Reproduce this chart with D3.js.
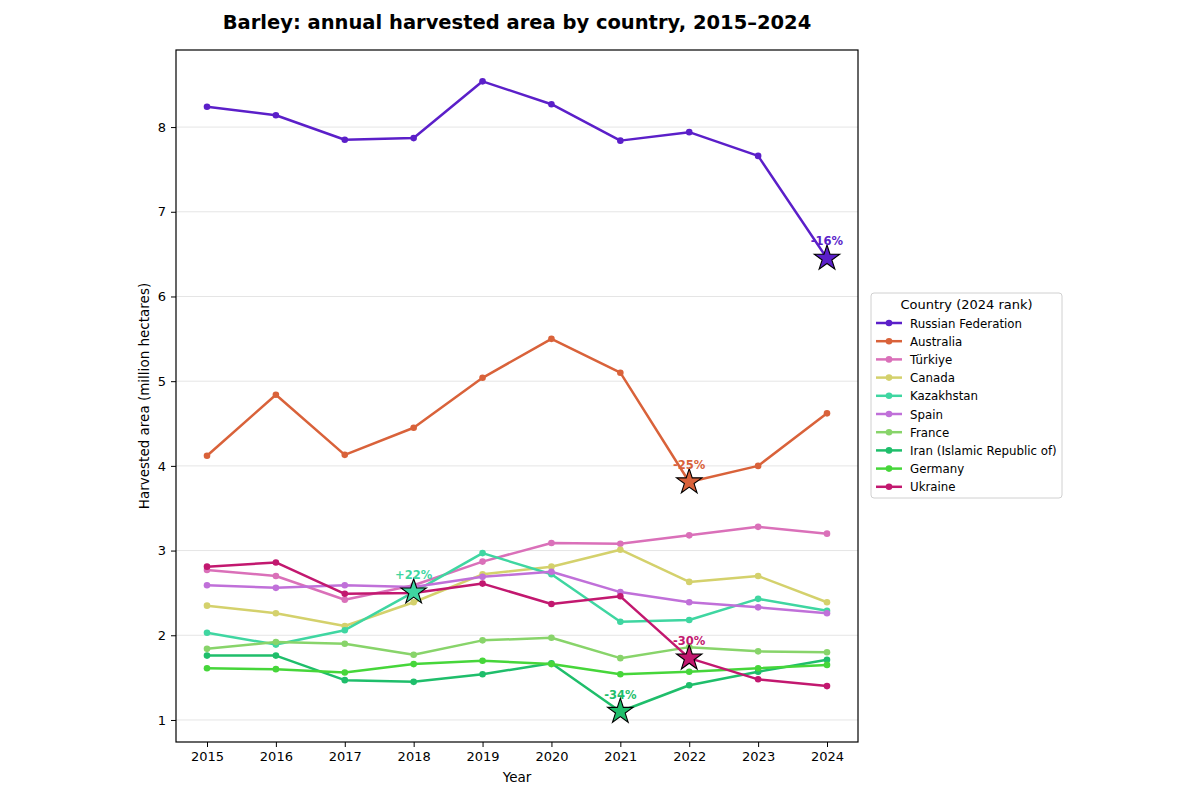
<!DOCTYPE html>
<html>
<head>
<meta charset="utf-8">
<script src="https://cdn.jsdelivr.net/npm/d3@7"></script>
<style>
  body { margin: 0; background: #fff; font-family: "DejaVu Sans", sans-serif; }
  svg { display: block; }
  .grid line { stroke: #e5e5e5; stroke-width: 1; }
  .axis path, .axis line { stroke: #000; }
</style>
</head>
<body>
<div id="chart"></div>
<script>
// Données
const years = [2015, 2016, 2017, 2018, 2019, 2020, 2021, 2022, 2023, 2024];
const countries = ["Russian Federation", "Australia", "Türkiye", "Canada", "Kazakhstan",
  "Spain", "France", "Iran (Islamic Republic of)", "Germany", "Ukraine"];
const colors = ["#5b1fc9", "#d9623a", "#da70b9", "#d4d16c", "#3fd6a1",
  "#c070d9", "#88d46a", "#1fbe6b", "#46d63a", "#c2186f"];

const russia     = [8.24, 8.14, 7.85, 7.87, 8.54, 8.27, 7.84, 7.94, 7.66, 6.45];
const australia  = [4.12, 4.84, 4.13, 4.45, 5.04, 5.50, 5.10, 3.81, 4.00, 4.62];
const turkiye    = [2.77, 2.70, 2.42, 2.59, 2.87, 3.09, 3.08, 3.18, 3.28, 3.20];
const canada     = [2.35, 2.26, 2.11, 2.39, 2.72, 2.81, 3.01, 2.63, 2.70, 2.39];
const kazakhstan = [2.03, 1.89, 2.06, 2.51, 2.97, 2.72, 2.16, 2.18, 2.43, 2.29];
const spain      = [2.59, 2.56, 2.59, 2.57, 2.69, 2.75, 2.51, 2.39, 2.33, 2.26];
const france     = [1.84, 1.92, 1.90, 1.77, 1.94, 1.97, 1.73, 1.86, 1.81, 1.80];
const iran       = [1.76, 1.76, 1.47, 1.45, 1.54, 1.67, 1.10, 1.41, 1.57, 1.71];
const germany    = [1.61, 1.60, 1.56, 1.66, 1.70, 1.66, 1.54, 1.57, 1.61, 1.65];
const ukraine    = [2.81, 2.86, 2.49, 2.50, 2.61, 2.37, 2.46, 1.73, 1.48, 1.40];
const seriesValues = [russia, australia, turkiye, canada, kazakhstan, spain, france, iran, germany, ukraine];

// Plus fortes variations annuelles (étoiles)
const highlightCountries = ["Russian Federation", "Australia", "Kazakhstan", "Iran (Islamic Republic of)", "Ukraine"];
const highlightYears = [2024, 2022, 2018, 2021, 2022];

const yTicks = [1, 2, 3, 4, 5, 6, 7, 8];

const series = countries.map((c, i) => ({
  name: c, color: colors[i],
  values: years.map((y, j) => ({ year: y, value: seriesValues[i][j] }))
}));

const width = 1200, height = 800;
const margin = { top: 50, right: 342, bottom: 58, left: 176 };
const innerWidth = width - margin.left - margin.right;
const innerHeight = height - margin.top - margin.bottom;
const font = "DejaVu Sans, sans-serif";

const xScale = d3.scaleLinear().domain([2014.55, 2024.45]).range([0, innerWidth]);
const yScale = d3.scaleLinear().domain([0.74, 8.91]).range([innerHeight, 0]);

const svg = d3.select("#chart").append("svg")
  .attr("width", width).attr("height", height);

svg.append("text")
  .attr("x", margin.left + innerWidth / 2)
  .attr("y", 29)
  .attr("text-anchor", "middle")
  .attr("font-family", font)
  .attr("font-size", 19.5).attr("font-weight", "bold")
  .text("Barley: annual harvested area by country, 2015\u20132024");

const g = svg.append("g").attr("transform", `translate(${margin.left},${margin.top})`);

// GRID
g.append("g").attr("class", "grid")
  .selectAll("line").data(yTicks).enter().append("line")
    .attr("x1", 0).attr("x2", innerWidth)
    .attr("y1", d => yScale(d)).attr("y2", d => yScale(d));

// AXES
g.append("g").attr("class", "axis")
  .attr("transform", `translate(0,${innerHeight})`)
  .call(d3.axisBottom(xScale).tickValues(years).tickFormat(d3.format("d")).tickSize(5).tickPadding(5))
  .call(a => a.select(".domain").remove())
  .call(a => a.selectAll(".tick text")
    .attr("text-anchor", "middle").attr("font-size", 13).attr("font-family", font).attr("fill", "#000"));

g.append("g").attr("class", "axis")
  .call(d3.axisLeft(yScale).tickValues(yTicks).tickSize(5).tickPadding(5))
  .call(a => a.select(".domain").remove())
  .call(a => a.selectAll(".tick text")
    .attr("text-anchor", "end").attr("font-size", 13).attr("font-family", font).attr("fill", "#000"));

g.append("rect")
  .attr("width", innerWidth).attr("height", innerHeight)
  .attr("fill", "none").attr("stroke", "#000").attr("stroke-width", 1.2);

svg.append("text")
  .attr("x", margin.left + innerWidth / 2).attr("y", 782)
  .attr("text-anchor", "middle").attr("font-family", font).attr("font-size", 13.5)
  .text("Year");

svg.append("text")
  .attr("transform", `translate(149,${margin.top + innerHeight / 2}) rotate(-90)`)
  .attr("text-anchor", "middle").attr("font-family", font).attr("font-size", 13.5)
  .text("Harvested area (million hectares)");

// LINES
const line = d3.line().x(d => xScale(d.year)).y(d => yScale(d.value));

const groups = g.selectAll(".series").data(series).enter().append("g").attr("class", "series");
groups.append("path")
  .attr("d", d => line(d.values))
  .attr("fill", "none").attr("stroke", d => d.color)
  .attr("stroke-width", 2.5).attr("stroke-linejoin", "round");
groups.selectAll("circle").data(d => d.values.map(v => ({ ...v, color: d.color }))).enter()
  .append("circle")
    .attr("cx", d => xScale(d.year)).attr("cy", d => yScale(d.value))
    .attr("r", 3.3).attr("fill", d => d.color);

// STARS + labels
const star = d3.symbol().type(d3.symbolStar).size(200);
highlightCountries.forEach((c, i) => {
  const s = series.find(d => d.name === c);
  const j = years.indexOf(highlightYears[i]);
  const v = s.values[j].value, prev = s.values[j - 1].value;
  const pct = Math.round((v - prev) / prev * 100);
  const px = xScale(highlightYears[i]), py = yScale(v);
  g.append("path")
    .attr("d", star)
    .attr("transform", `translate(${px},${py})`)
    .attr("fill", s.color).attr("stroke", "#000").attr("stroke-width", 1.1);
  g.append("text")
    .attr("x", px).attr("y", py - 13)
    .attr("text-anchor", "middle")
    .attr("font-family", font).attr("font-size", 11.5).attr("font-weight", "bold")
    .attr("fill", s.color)
    .text((pct > 0 ? "+" : "") + pct + "%");
});

// LEGEND
const lgX = 871, lgY = 293, rowH = 18.2;
svg.append("rect")
  .attr("x", lgX).attr("y", lgY)
  .attr("width", 191).attr("height", 205).attr("rx", 3)
  .attr("fill", "#fff").attr("stroke", "#d0d0d0");
svg.append("text")
  .attr("x", lgX + 95.5).attr("y", lgY + 16)
  .attr("text-anchor", "middle").attr("font-family", font).attr("font-size", 13)
  .text("Country (2024 rank)");
svg.selectAll(".lg-line").data(series).enter().append("line")
  .attr("x1", lgX + 5).attr("x2", lgX + 31)
  .attr("y1", (d, i) => lgY + 30 + i * rowH).attr("y2", (d, i) => lgY + 30 + i * rowH)
  .attr("stroke", d => d.color).attr("stroke-width", 2.5);
svg.selectAll(".lg-dot").data(series).enter().append("circle")
  .attr("cx", lgX + 18).attr("cy", (d, i) => lgY + 30 + i * rowH)
  .attr("r", 3.3).attr("fill", d => d.color);
svg.selectAll(".lg-text").data(series).enter().append("text")
  .attr("x", lgX + 39).attr("y", (d, i) => lgY + 34.5 + i * rowH)
  .attr("text-anchor", "start").attr("font-family", font).attr("font-size", 11.8)
  .text(d => d.name);
</script>
</body>
</html>
